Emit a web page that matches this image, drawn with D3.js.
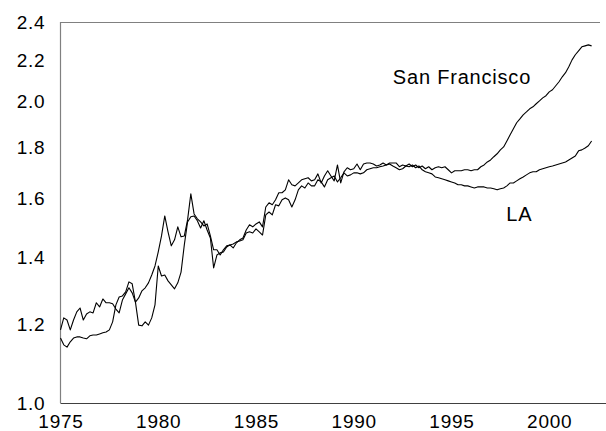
<!DOCTYPE html>
<html>
<head>
<meta charset="utf-8">
<script src="https://cdn.jsdelivr.net/npm/d3@7"></script>
<style>
  html, body { margin: 0; padding: 0; background: #fff; }
  svg { display: block; }
  text { font-family: "Liberation Sans", Arial, sans-serif; fill: #000; }
</style>
</head>
<body>
<svg id="chart" width="606" height="431"></svg>
<script>
// ---- data (bi-monthly observations, 1975.0 onwards) ----
const startYear = 1975;
const stepYears = 1 / 6;

const sanFrancisco = [
  1.161,1.143,1.137,1.151,1.161,1.164,1.164,1.161,1.159,1.167,1.169,1.169,
  1.172,1.175,1.177,1.183,1.205,1.253,1.276,1.279,1.291,1.321,1.315,1.261,
  1.196,1.194,1.205,1.196,1.216,1.253,1.370,1.339,1.342,1.324,1.312,1.300,
  1.318,1.351,1.438,1.516,1.534,1.537,1.520,1.495,1.520,1.488,1.461,1.364,
  1.405,1.412,1.415,1.431,1.438,1.428,1.445,1.455,1.461,1.488,1.506,1.499,
  1.509,1.516,1.499,1.569,1.584,1.577,1.595,1.621,1.621,1.632,1.670,1.651,
  1.647,1.658,1.670,1.674,1.678,1.666,1.670,1.693,1.658,1.685,1.705,1.685,
  1.666,1.728,1.658,1.701,1.717,1.709,1.713,1.732,1.709,1.732,1.736,1.736,
  1.732,1.724,1.728,1.736,1.728,1.736,1.736,1.736,1.721,1.728,1.724,1.732,
  1.721,1.728,1.717,1.724,1.713,1.721,1.709,1.717,1.721,1.717,1.721,1.709,
  1.697,1.705,1.705,1.705,1.709,1.709,1.705,1.709,1.709,1.721,1.728,1.740,
  1.748,1.761,1.773,1.789,1.801,1.826,1.852,1.878,1.904,1.921,1.939,1.952,
  1.966,1.975,1.989,2.002,2.016,2.026,2.044,2.054,2.073,2.092,2.116,2.136,
  2.165,2.200,2.226,2.246,2.267,2.272,2.277,2.272
];

const losAngeles = [
  1.183,1.216,1.210,1.183,1.210,1.233,1.244,1.210,1.227,1.233,1.230,1.259,
  1.247,1.270,1.259,1.259,1.256,1.241,1.230,1.267,1.285,1.303,1.288,1.261,
  1.273,1.294,1.303,1.318,1.342,1.370,1.415,1.468,1.537,1.482,1.435,1.455,
  1.499,1.465,1.468,1.523,1.617,1.544,1.527,1.516,1.502,1.509,1.468,1.422,
  1.422,1.405,1.422,1.435,1.438,1.441,1.448,1.451,1.455,1.478,1.482,1.478,
  1.492,1.482,1.471,1.541,1.551,1.541,1.577,1.573,1.595,1.602,1.595,1.569,
  1.595,1.632,1.647,1.639,1.658,1.647,1.647,1.670,1.662,1.643,1.670,1.678,
  1.685,1.662,1.678,1.697,1.685,1.689,1.697,1.697,1.693,1.697,1.709,1.713,
  1.717,1.717,1.721,1.724,1.728,1.732,1.724,1.717,1.709,1.713,1.724,1.721,
  1.728,1.717,1.724,1.709,1.701,1.697,1.693,1.681,1.678,1.674,1.670,1.666,
  1.662,1.658,1.651,1.651,1.647,1.647,1.643,1.639,1.643,1.643,1.643,1.639,
  1.639,1.636,1.632,1.636,1.639,1.647,1.658,1.658,1.666,1.674,1.681,1.689,
  1.697,1.701,1.701,1.709,1.713,1.717,1.721,1.724,1.728,1.732,1.736,1.740,
  1.748,1.756,1.764,1.785,1.789,1.797,1.806,1.826
];

const yTickValues = [1.0, 1.2, 1.4, 1.6, 1.8, 2.0, 2.2, 2.4];
const xTickValues = [1975, 1980, 1985, 1990, 1995, 2000];
const seriesLabels = ["San Francisco", "LA"];

// ---- chart ----
const svg = d3.select("#chart");
const W = 606, H = 431;
const mLeft = 60.5, mTop = 22, mBottom = 403;

const x = d3.scaleLinear().domain([1975, 2003]).range([mLeft, mLeft + 28 * 19.55]);
const y = d3.scaleLog().domain([1.0, 2.4]).range([mBottom, mTop]);

// frame lines (top, left, bottom)
svg.append("line").attr("x1", mLeft).attr("x2", 600).attr("y1", mTop + 0.5).attr("y2", mTop + 0.5)
  .attr("stroke", "#808080").attr("stroke-width", 1.2);
svg.append("line").attr("x1", mLeft).attr("x2", mLeft).attr("y1", mTop).attr("y2", mBottom)
  .attr("stroke", "#808080").attr("stroke-width", 1.2);
svg.append("line").attr("x1", mLeft).attr("x2", W).attr("y1", mBottom + 0.5).attr("y2", mBottom + 0.5)
  .attr("stroke", "#404040").attr("stroke-width", 1.2);

// y axis labels
const yAxis = d3.axisLeft(y).tickValues(yTickValues).tickFormat(d3.format(".1f")).tickSize(0).tickPadding(15);
const gy = svg.append("g").attr("transform", `translate(${mLeft},0)`).call(yAxis);
gy.select(".domain").remove();
gy.attr("font-family", null).attr("font-size", null);
gy.selectAll("text").style("font-size", "19px").style("letter-spacing", "0.8px")
  .attr("fill", "#000").attr("dy", "0.34em");

// x axis labels
const xAxis = d3.axisBottom(x).tickValues(xTickValues).tickFormat(d3.format("d")).tickSize(0).tickPadding(12);
const gx = svg.append("g").attr("transform", `translate(0,${mBottom})`).call(xAxis);
gx.select(".domain").remove();
gx.attr("font-family", null).attr("font-size", null);
gx.selectAll("text").style("font-size", "19px").style("letter-spacing", "0.8px")
  .attr("fill", "#000");

// lines
const line = d3.line()
  .x((d, i) => x(startYear + i * stepYears))
  .y(d => y(d));

[sanFrancisco, losAngeles].forEach(s => {
  svg.append("path").datum(s).attr("d", line)
    .attr("fill", "none").attr("stroke", "#000").attr("stroke-width", 1.1)
    .attr("stroke-linejoin", "round");
});

// series labels
svg.append("text").attr("x", x(1992.0)).attr("y", y(2.08))
  .style("font-size", "20px").style("letter-spacing", "0.8px").text(seriesLabels[0]);
svg.append("text").attr("x", x(1997.8)).attr("y", y(1.52))
  .style("font-size", "20px").style("letter-spacing", "0.8px").text(seriesLabels[1]);
</script>
</body>
</html>
